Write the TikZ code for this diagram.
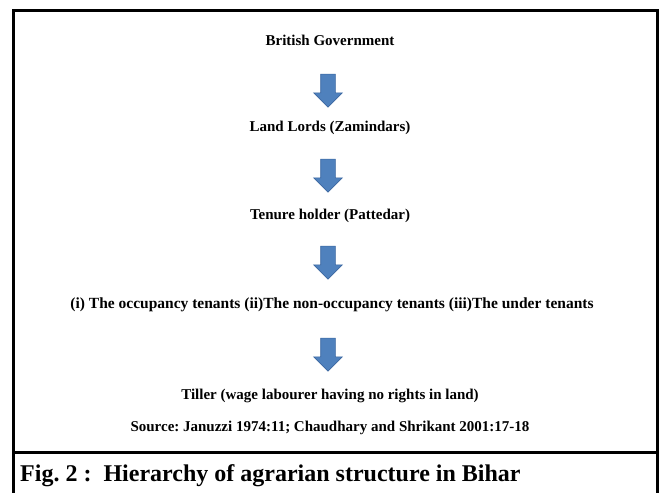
\documentclass[tikz,border=0pt]{standalone}
\usepackage{fontspec}
\setmainfont{Liberation Serif}
\usetikzlibrary{shapes.arrows}
\definecolor{arrowblue}{HTML}{4F81BD}
\definecolor{arrowedge}{HTML}{3A66A0}
\tikzset{
  level/.style={font=\bfseries\fontsize{15}{18}\selectfont, inner sep=0pt, anchor=center},
  downarrow/.style={single arrow, rotate=-90, fill=arrowblue, draw=arrowedge, line width=0.6pt,
    minimum height=33pt, minimum width=28pt, inner sep=7pt, single arrow head extend=7pt},
  frameline/.style={line width=3pt, black},
}
\frenchspacing
\begin{document}
\begin{tikzpicture}[x=1pt,y=-1pt]
\useasboundingbox (0,0) rectangle (662,493);
\draw[frameline] (13,493) -- (13,10) -- (657,10) -- (657,493);
\draw[frameline] (13,452) -- (657,452);
\node[level] (t1) at (330,40) {British Government};
\node[downarrow] (a1) at (328,87) {};
\node[level] (t2) at (330,128) {Land Lords (Zamindars)};
\node[downarrow] (a2) at (328,172) {};
\node[level] (t3) at (330,216) {Tenure holder (Pattedar)};
\node[downarrow] (a3) at (328,259) {};
\node[level, font=\bfseries\fontsize{15.5}{18}\selectfont] (t4) at (332,305) {(i) The occupancy tenants (ii)The non-occupancy tenants (iii)The under tenants};
\node[downarrow] (a4) at (328,351) {};
\node[level] (t5) at (330,396) {Tiller (wage labourer having no rights in land)};
\node[level, font=\bfseries\fontsize{15}{18}\selectfont] (src) at (330,428) {Source: Januzzi 1974:11; Chaudhary and Shrikant 2001:17-18};
\node[anchor=west, inner sep=0pt, font=\bfseries\fontsize{24}{28}\selectfont] (cap) at (20,476) {Fig. 2 :\hspace{12pt}Hierarchy of agrarian structure in Bihar};
\end{tikzpicture}
\end{document}
